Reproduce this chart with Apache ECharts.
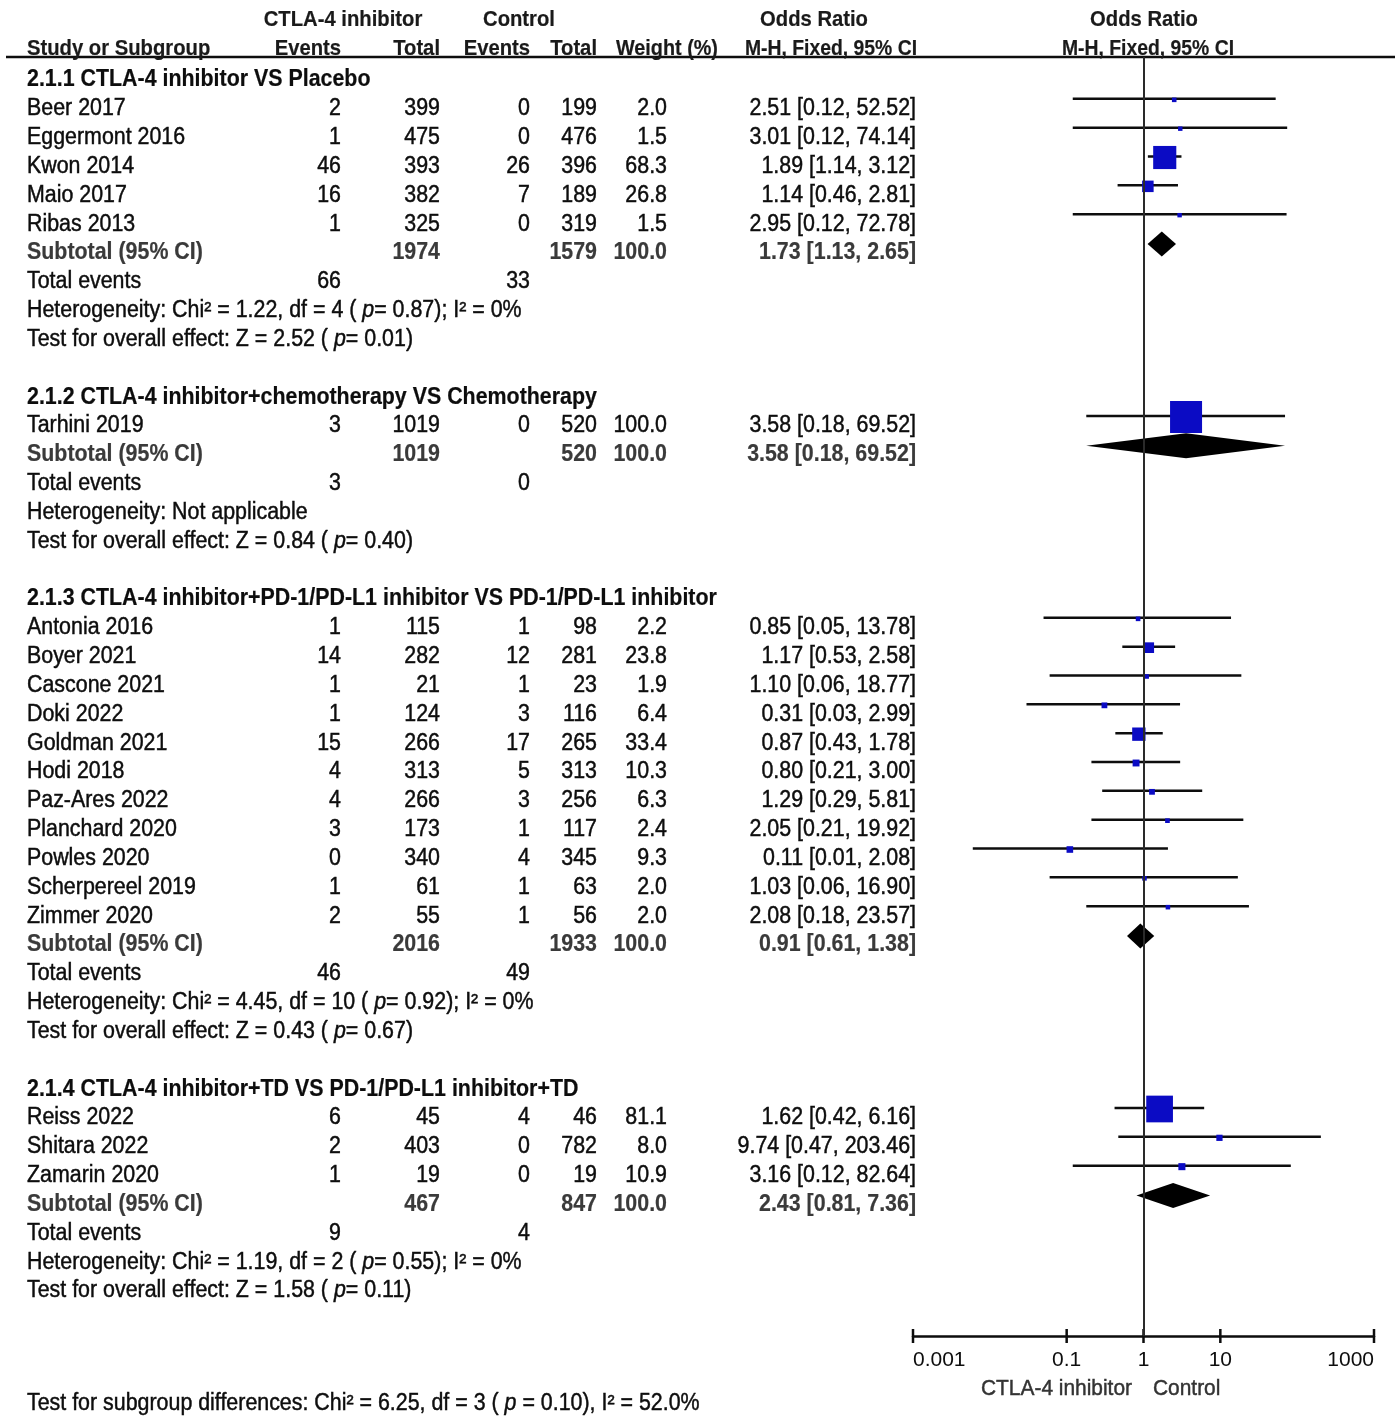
<!DOCTYPE html>
<html>
<head>
<meta charset="utf-8">
<script src="https://cdn.jsdelivr.net/npm/echarts@6/dist/echarts.min.js"></script>
<style>
html,body{margin:0;padding:0;background:#fff;}
#chart{width:1400px;height:1417px;}
</style>
</head>
<body>
<div id="chart"></div>
<script>
// ---------------- DATA ----------------
const groups = [
  '2.1.1 CTLA-4 inhibitor VS Placebo',
  '2.1.2 CTLA-4 inhibitor+chemotherapy VS Chemotherapy',
  '2.1.3 CTLA-4 inhibitor+PD-1/PD-L1 inhibitor VS PD-1/PD-L1 inhibitor',
  '2.1.4 CTLA-4 inhibitor+TD VS PD-1/PD-L1 inhibitor+TD'
];
const studies = ['Beer 2017','Eggermont 2016','Kwon 2014','Maio 2017','Ribas 2013',
  'Tarhini 2019',
  'Antonia 2016','Boyer 2021','Cascone 2021','Doki 2022','Goldman 2021','Hodi 2018','Paz-Ares 2022','Planchard 2020','Powles 2020','Scherpereel 2019','Zimmer 2020',
  'Reiss 2022','Shitara 2022','Zamarin 2020'];
const studyGroup = [0,0,0,0,0, 1, 2,2,2,2,2,2,2,2,2,2,2, 3,3,3];
const expEvents = [2,1,46,16,1, 3, 1,14,1,1,15,4,4,3,0,1,2, 6,2,1];
const expTotal  = [399,475,393,382,325, 1019, 115,282,21,124,266,313,266,173,340,61,55, 45,403,19];
const ctlEvents = [0,0,26,7,0, 0, 1,12,1,3,17,5,3,1,4,1,1, 4,0,0];
const ctlTotal  = [199,476,396,189,319, 520, 98,281,23,116,265,313,256,117,345,63,56, 46,782,19];
const weight    = [2.0,1.5,68.3,26.8,1.5, 100.0, 2.2,23.8,1.9,6.4,33.4,10.3,6.3,2.4,9.3,2.0,2.0, 81.1,8.0,10.9];
const oddsRatio = [2.51,3.01,1.89,1.14,2.95, 3.58, 0.85,1.17,1.10,0.31,0.87,0.80,1.29,2.05,0.11,1.03,2.08, 1.62,9.74,3.16];
const ciLower   = [0.12,0.12,1.14,0.46,0.12, 0.18, 0.05,0.53,0.06,0.03,0.43,0.21,0.29,0.21,0.006,0.06,0.18, 0.42,0.47,0.12];
const ciUpper   = [52.52,74.14,3.12,2.81,72.78, 69.52, 13.78,2.58,18.77,2.99,1.78,3.00,5.81,19.92,2.08,16.90,23.57, 6.16,203.46,82.64];

const subExpTotal  = [1974,1019,2016,467];
const subCtlTotal  = [1579,520,1933,847];
const subWeight    = [100.0,100.0,100.0,100.0];
const subOR        = [1.73,3.58,0.91,2.43];
const subLower     = [1.13,0.18,0.61,0.81];
const subUpper     = [2.65,69.52,1.38,7.36];
const subExpEvents = [66,3,46,9];
const subCtlEvents = [33,0,49,4];
const hetChi2 = [1.22,null,4.45,1.19];
const hetDf   = [4,null,10,2];
const hetP    = ['0.87',null,'0.92','0.55'];
const hetI2   = ['0%',null,'0%','0%'];
const effZ    = ['2.52','0.84','0.43','1.58'];
const effP    = ['0.01','0.40','0.67','0.11'];
const subgroupDiff = {chi2:'6.25', df:3, p:'0.10', i2:'52.0%'};

const xTickValues = [0.001, 0.1, 1, 10, 1000];
const xTickLabels = ['0.001','0.1','1','10','1000'];
const favourLabels = ['CTLA-4 inhibitor','Control'];

// ---------------- LAYOUT ----------------
const FONT = '"Liberation Sans", Arial, Helvetica, sans-serif';
const COL = {name:27, ev1:341, tot1:440, ev2:530, tot2:597, wt:667, ci:916};
const Y_MIN = -0.694, Y_MAX = 43.665;
const TEXT_DY = 3;
const BLACK = '#0d0d0d', GREY = '#3a3a3a';

function ciText(o,l,u){ return o.toFixed(2)+' ['+l.toFixed(2)+', '+u.toFixed(2)+']'; }
function C(text,x,align,opt){ return Object.assign({text:String(text),x:x,align:align}, opt||{}); }

const rows = [];
const studyRow = [], subRow = [];
let r = 0;
groups.forEach(function(g, gi){
  rows.push({y:r, cells:[C(g, COL.name, 'left', {bold:true})]}); r++;
  studies.forEach(function(s, i){
    if (studyGroup[i] !== gi) return;
    studyRow[i] = r;
    rows.push({y:r, cells:[
      C(s, COL.name, 'left'),
      C(expEvents[i], COL.ev1, 'right'),
      C(expTotal[i], COL.tot1, 'right'),
      C(ctlEvents[i], COL.ev2, 'right'),
      C(ctlTotal[i], COL.tot2, 'right'),
      C(weight[i].toFixed(1), COL.wt, 'right'),
      C(ciText(oddsRatio[i], ciLower[i], ciUpper[i]), COL.ci, 'right')
    ]});
    r++;
  });
  subRow[gi] = r;
  const sb = {bold:true, color:GREY};
  rows.push({y:r, cells:[
    C('Subtotal (95% CI)', COL.name, 'left', sb),
    C(subExpTotal[gi], COL.tot1, 'right', sb),
    C(subCtlTotal[gi], COL.tot2, 'right', sb),
    C(subWeight[gi].toFixed(1), COL.wt, 'right', sb),
    C(ciText(subOR[gi], subLower[gi], subUpper[gi]), COL.ci, 'right', sb)
  ]}); r++;
  rows.push({y:r, cells:[
    C('Total events', COL.name, 'left'),
    C(subExpEvents[gi], COL.ev1, 'right'),
    C(subCtlEvents[gi], COL.ev2, 'right')
  ]}); r++;
  if (hetChi2[gi] === null) {
    rows.push({y:r, cells:[C('Heterogeneity: Not applicable', COL.name, 'left')]});
  } else {
    rows.push({y:r, cells:[C('{n|Heterogeneity: Chi² = '+hetChi2[gi].toFixed(2)+', df = '+hetDf[gi]+' ( }{i|p}{n|= '+hetP[gi]+'); I² = '+hetI2[gi]+'}', COL.name, 'left', {rich:true})]});
  }
  r++;
  rows.push({y:r, cells:[C('{n|Test for overall effect: Z = '+effZ[gi]+' ( }{i|p}{n|= '+effP[gi]+')}', COL.name, 'left', {rich:true})]});
  r++;
  r++; // blank line
});

const hb = {bold:true, color:'#1a1a1a', size:22, sx:0.92, dy:0.5};
rows.push({y:-2, cells:[
  C('CTLA-4 inhibitor', 343, 'center', hb),
  C('Control', 519, 'center', hb),
  C('Odds Ratio', 814, 'center', hb),
  C('Odds Ratio', 1144, 'center', hb)
]});
rows.push({y:-1, cells:[
  C('Study or Subgroup', COL.name, 'left', hb),
  C('Events', COL.ev1, 'right', hb),
  C('Total', COL.tot1, 'right', hb),
  C('Events', COL.ev2, 'right', hb),
  C('Total', COL.tot2, 'right', hb),
  C('Weight (%)', 616, 'left', Object.assign({}, hb, {sx:0.9})),
  C('M-H, Fixed, 95% CI', 831, 'center', Object.assign({}, hb, {sx:0.88})),
  C('M-H, Fixed, 95% CI', 1148, 'center', Object.assign({}, hb, {sx:0.88}))
]});
rows.push({y:45.4, cells:[
  C(favourLabels[0], 1132, 'right', {color:'#333', size:22, sx:0.95}),
  C(favourLabels[1], 1153, 'left', {color:'#333', size:22, sx:0.95})
]});
rows.push({y:45.92, cells:[
  C('{n|Test for subgroup differences: Chi² = '+subgroupDiff.chi2+', df = '+subgroupDiff.df+' ( }{i|p}{n| = '+subgroupDiff.p+'), I² = '+subgroupDiff.i2+'}', COL.name, 'left', {rich:true})
]});

// ---------------- CHART ----------------
function textEl(c, y){
  const size = c.size || 23;
  const fill = c.color || BLACK;
  const base = {fontSize:size, fontFamily:FONT, fontWeight:c.bold?'bold':'normal', stroke:fill, lineWidth:c.bold?0.2:0.45};
  const style = Object.assign({x:0, y:0, text:c.text, align:c.align, verticalAlign:'middle', fill:fill}, base);
  if (c.rich) {
    style.rich = {
      n: Object.assign({fill:fill}, base),
      i: Object.assign({fill:fill, fontStyle:'italic'}, base)
    };
  }
  const dy = (c.dy !== undefined) ? c.dy : TEXT_DY;
  return {type:'text', x:c.x, y:y + dy, scaleX:(c.sx || 0.93), style:style};
}

const chart = echarts.init(document.getElementById('chart'), null, {renderer:'canvas'});
const option = {
  animation:false,
  backgroundColor:'#fff',
  grid:{left:913, right:26, top:57, bottom:81, containLabel:false},
  xAxis:{
    type:'log', logBase:10, min:0.001, max:1000,
    axisLine:{show:true, onZero:false, lineStyle:{color:BLACK, width:2.5}},
    axisTick:{show:false},
    splitLine:{show:false},
    axisLabel:{
      show:true, color:BLACK, fontSize:21, fontFamily:FONT, margin:14,
      alignMinLabel:'left', alignMaxLabel:'right',
      formatter:function(v){
        for (let k=0;k<xTickValues.length;k++){
          if (Math.abs(Math.log10(v) - Math.log10(xTickValues[k])) < 1e-6) return xTickLabels[k];
        }
        return '';
      }
    }
  },
  yAxis:{type:'value', inverse:true, min:Y_MIN, max:Y_MAX, show:false},
  series:[
    { // reference line at OR = 1
      type:'line', data:[], z:1, silent:true,
      markLine:{silent:true, symbol:['none','none'], label:{show:false},
        lineStyle:{color:'#2a2a2a', width:2, type:'solid'},
        data:[{xAxis:1}]}
    },
    { // header underline
      type:'custom', z:2, silent:true,
      data:[[1, Y_MIN]],
      renderItem:function(params, api){
        const p = api.coord([api.value(0), api.value(1)]);
        return {type:'line', shape:{x1:6, y1:p[1], x2:1395, y2:p[1]}, style:{stroke:BLACK, lineWidth:2.5}};
      }
    },
    { // axis ticks
      type:'custom', z:3, silent:true,
      data:xTickValues.map(function(v){ return [v, Y_MAX]; }),
      renderItem:function(params, api){
        const p = api.coord([api.value(0), api.value(1)]);
        return {type:'line', shape:{x1:p[0], y1:p[1]-7, x2:p[0], y2:p[1]+7}, style:{stroke:BLACK, lineWidth:2.5}};
      }
    },
    { // study CI lines and weight squares
      type:'custom', z:4, silent:true,
      data:studies.map(function(s,i){ return [oddsRatio[i], studyRow[i], ciLower[i], ciUpper[i], weight[i]]; }),
      renderItem:function(params, api){
        const row = api.value(1);
        const p  = api.coord([api.value(0), row]);
        const pl = api.coord([api.value(2), row]);
        const pu = api.coord([api.value(3), row]);
        const yy = p[1] - 7;
        const side = 4 + 0.28 * api.value(4);
        return {type:'group', children:[
          {type:'line', shape:{x1:pl[0], y1:yy, x2:pu[0], y2:yy}, style:{stroke:BLACK, lineWidth:2.5}},
          {type:'rect', shape:{x:p[0]-side/2, y:yy-side/2+1, width:side, height:side}, style:{fill:'#0b0bc4'}}
        ]};
      }
    },
    { // subtotal diamonds
      type:'custom', z:4, silent:true,
      data:subOR.map(function(o,gi){ return [o, subRow[gi], subLower[gi], subUpper[gi]]; }),
      renderItem:function(params, api){
        const row = api.value(1);
        const p  = api.coord([api.value(0), row]);
        const pl = api.coord([api.value(2), row]);
        const pu = api.coord([api.value(3), row]);
        const yy = p[1] - 6, h = 12.5;
        return {type:'polygon', shape:{points:[[pl[0],yy],[p[0],yy-h],[pu[0],yy],[p[0],yy+h]]}, style:{fill:'#000'}};
      }
    },
    { // table text
      type:'custom', z:5, silent:true,
      data:rows.map(function(rw){ return [1, rw.y]; }),
      renderItem:function(params, api){
        const rw = rows[params.dataIndex];
        const y = api.coord([1, api.value(1)])[1];
        return {type:'group', children:rw.cells.map(function(c){ return textEl(c, y); })};
      }
    }
  ]
};
chart.setOption(option);
</script>
</body>
</html>
